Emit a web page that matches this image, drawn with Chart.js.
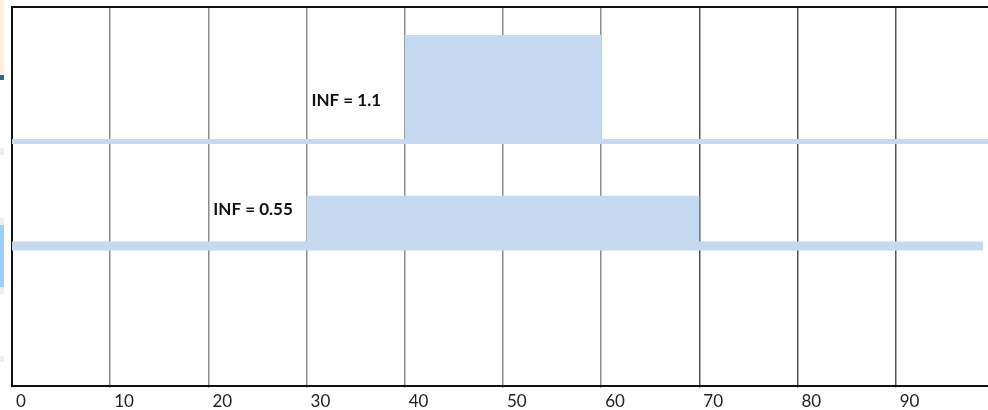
<!DOCTYPE html>
<html>
<head>
<meta charset="utf-8">
<script src="https://cdn.jsdelivr.net/npm/chart.js@4"></script>
<style>
  html, body { margin: 0; padding: 0; background: #fff; overflow: hidden; }
  #wrap { position: relative; width: 988px; height: 416px; }
  .edge { position: absolute; left: 0; width: 4px; }
</style>
</head>
<body>
<div id="wrap">
  <canvas id="chart"></canvas>
  <!-- bits of the neighbouring window left in the screenshot -->
  <div class="edge" style="top:0;height:75px;background:#fdeee0"></div>
  <div class="edge" style="top:75px;height:5px;background:#3b5f8e"></div>
  <div class="edge" style="top:148px;height:7px;background:#eee"></div>
  <div class="edge" style="top:218px;height:7px;background:#eee"></div>
  <div class="edge" style="top:225px;height:62px;background:#9dcffa"></div>
  <div class="edge" style="top:287px;height:7px;background:#eee"></div>
  <div class="edge" style="top:356px;height:6px;background:#eee"></div>
</div>
<script>
// x positions where the level changes
const xHigh = [0, 40, 60, 99.4];
const xLow = [0, 30, 70, 98.9];
// levels (arbitrary vertical units, 0..4)
const baseHigh = 2.58;
const baseLow = 1.475;
const yHigh = [baseHigh, 3.705, baseHigh, baseHigh];
const yLow = [baseLow, 2.005, baseLow, baseLow];
const xTicks = [0, 10, 20, 30, 40, 50, 60, 70, 80, 90];

const labelText = ['INF = 1.1', 'INF = 0.55'];
const labelX = [30.5, 20.5];
const labelY = [3.01, 1.86];

function pts(xs, ys) {
    return xs.map((x, i) => ({ x: x, y: ys[i] }));
}

const bandColor = '#c5d9f0';

const textLabels = {
    id: 'textLabels',
    afterDatasetsDraw(chart) {
        const ctx = chart.ctx;
        const xs = chart.scales.x, ys = chart.scales.y;
        ctx.save();
        ctx.font = 'bold 17px Lato';
        ctx.fillStyle = '#111';
        ctx.textAlign = 'left';
        ctx.textBaseline = 'middle';
        labelText.forEach((t, i) => {
            ctx.fillText(t, xs.getPixelForValue(labelX[i]), ys.getPixelForValue(labelY[i]));
        });
        ctx.restore();
    }
};

function block(xs, ys, base) {
    return {
        data: pts(xs, ys),
        stepped: 'before',
        borderWidth: 0,
        borderColor: bandColor,
        backgroundColor: bandColor,
        fill: { value: base },
        pointRadius: 0,
    };
}

function band(xs, base, width) {
    return {
        data: pts([xs[0], xs[xs.length - 1]], [base, base]),
        borderWidth: width,
        borderColor: bandColor,
        fill: false,
        pointRadius: 0,
    };
}

new Chart(document.getElementById('chart').getContext('2d'), {
    type: 'line',
    data: {
        datasets: [
            block(xHigh, yHigh, baseHigh),
            band(xHigh, baseHigh, 5),
            block(xLow, yLow, baseLow),
            band(xLow, baseLow, 9),
        ],
    },
    options: {
        responsive: true,
        maintainAspectRatio: false,
        animation: false,
        layout: { padding: { left: 12, top: 7, right: 0, bottom: 0 } },
        plugins: {
            legend: { display: false },
            tooltip: { enabled: false },
        },
        scales: {
            x: {
                type: 'linear',
                min: 0,
                max: 99.4,
                afterBuildTicks: (axis) => {
                    axis.ticks = xTicks.map(v => ({ value: v }));
                },
                grid: {
                    color: (c) => (c.tick && c.tick.value >= 70 ? '#555' : '#8c8c8c'),
                    lineWidth: 1.5,
                    tickLength: 2,
                    tickColor: '#2a9d2a',
                },
                border: { color: '#111', width: 2 },
                ticks: {
                    align: 'start',
                    labelOffset: 4,
                    padding: 4,
                    color: '#222',
                    font: { family: 'Lato', size: 17 },
                    maxRotation: 0,
                    includeBounds: false,
                },
            },
            y: {
                min: 0,
                max: 4,
                ticks: { display: false, stepSize: 1 },
                grid: {
                    drawTicks: false,
                    color: (c) => (c.tick && c.tick.value === 4 ? '#111' : 'rgba(0,0,0,0)'),
                    lineWidth: 2,
                },
                border: { color: '#111', width: 2 },
            },
        },
    },
    plugins: [textLabels],
});
</script>
</body>
</html>
